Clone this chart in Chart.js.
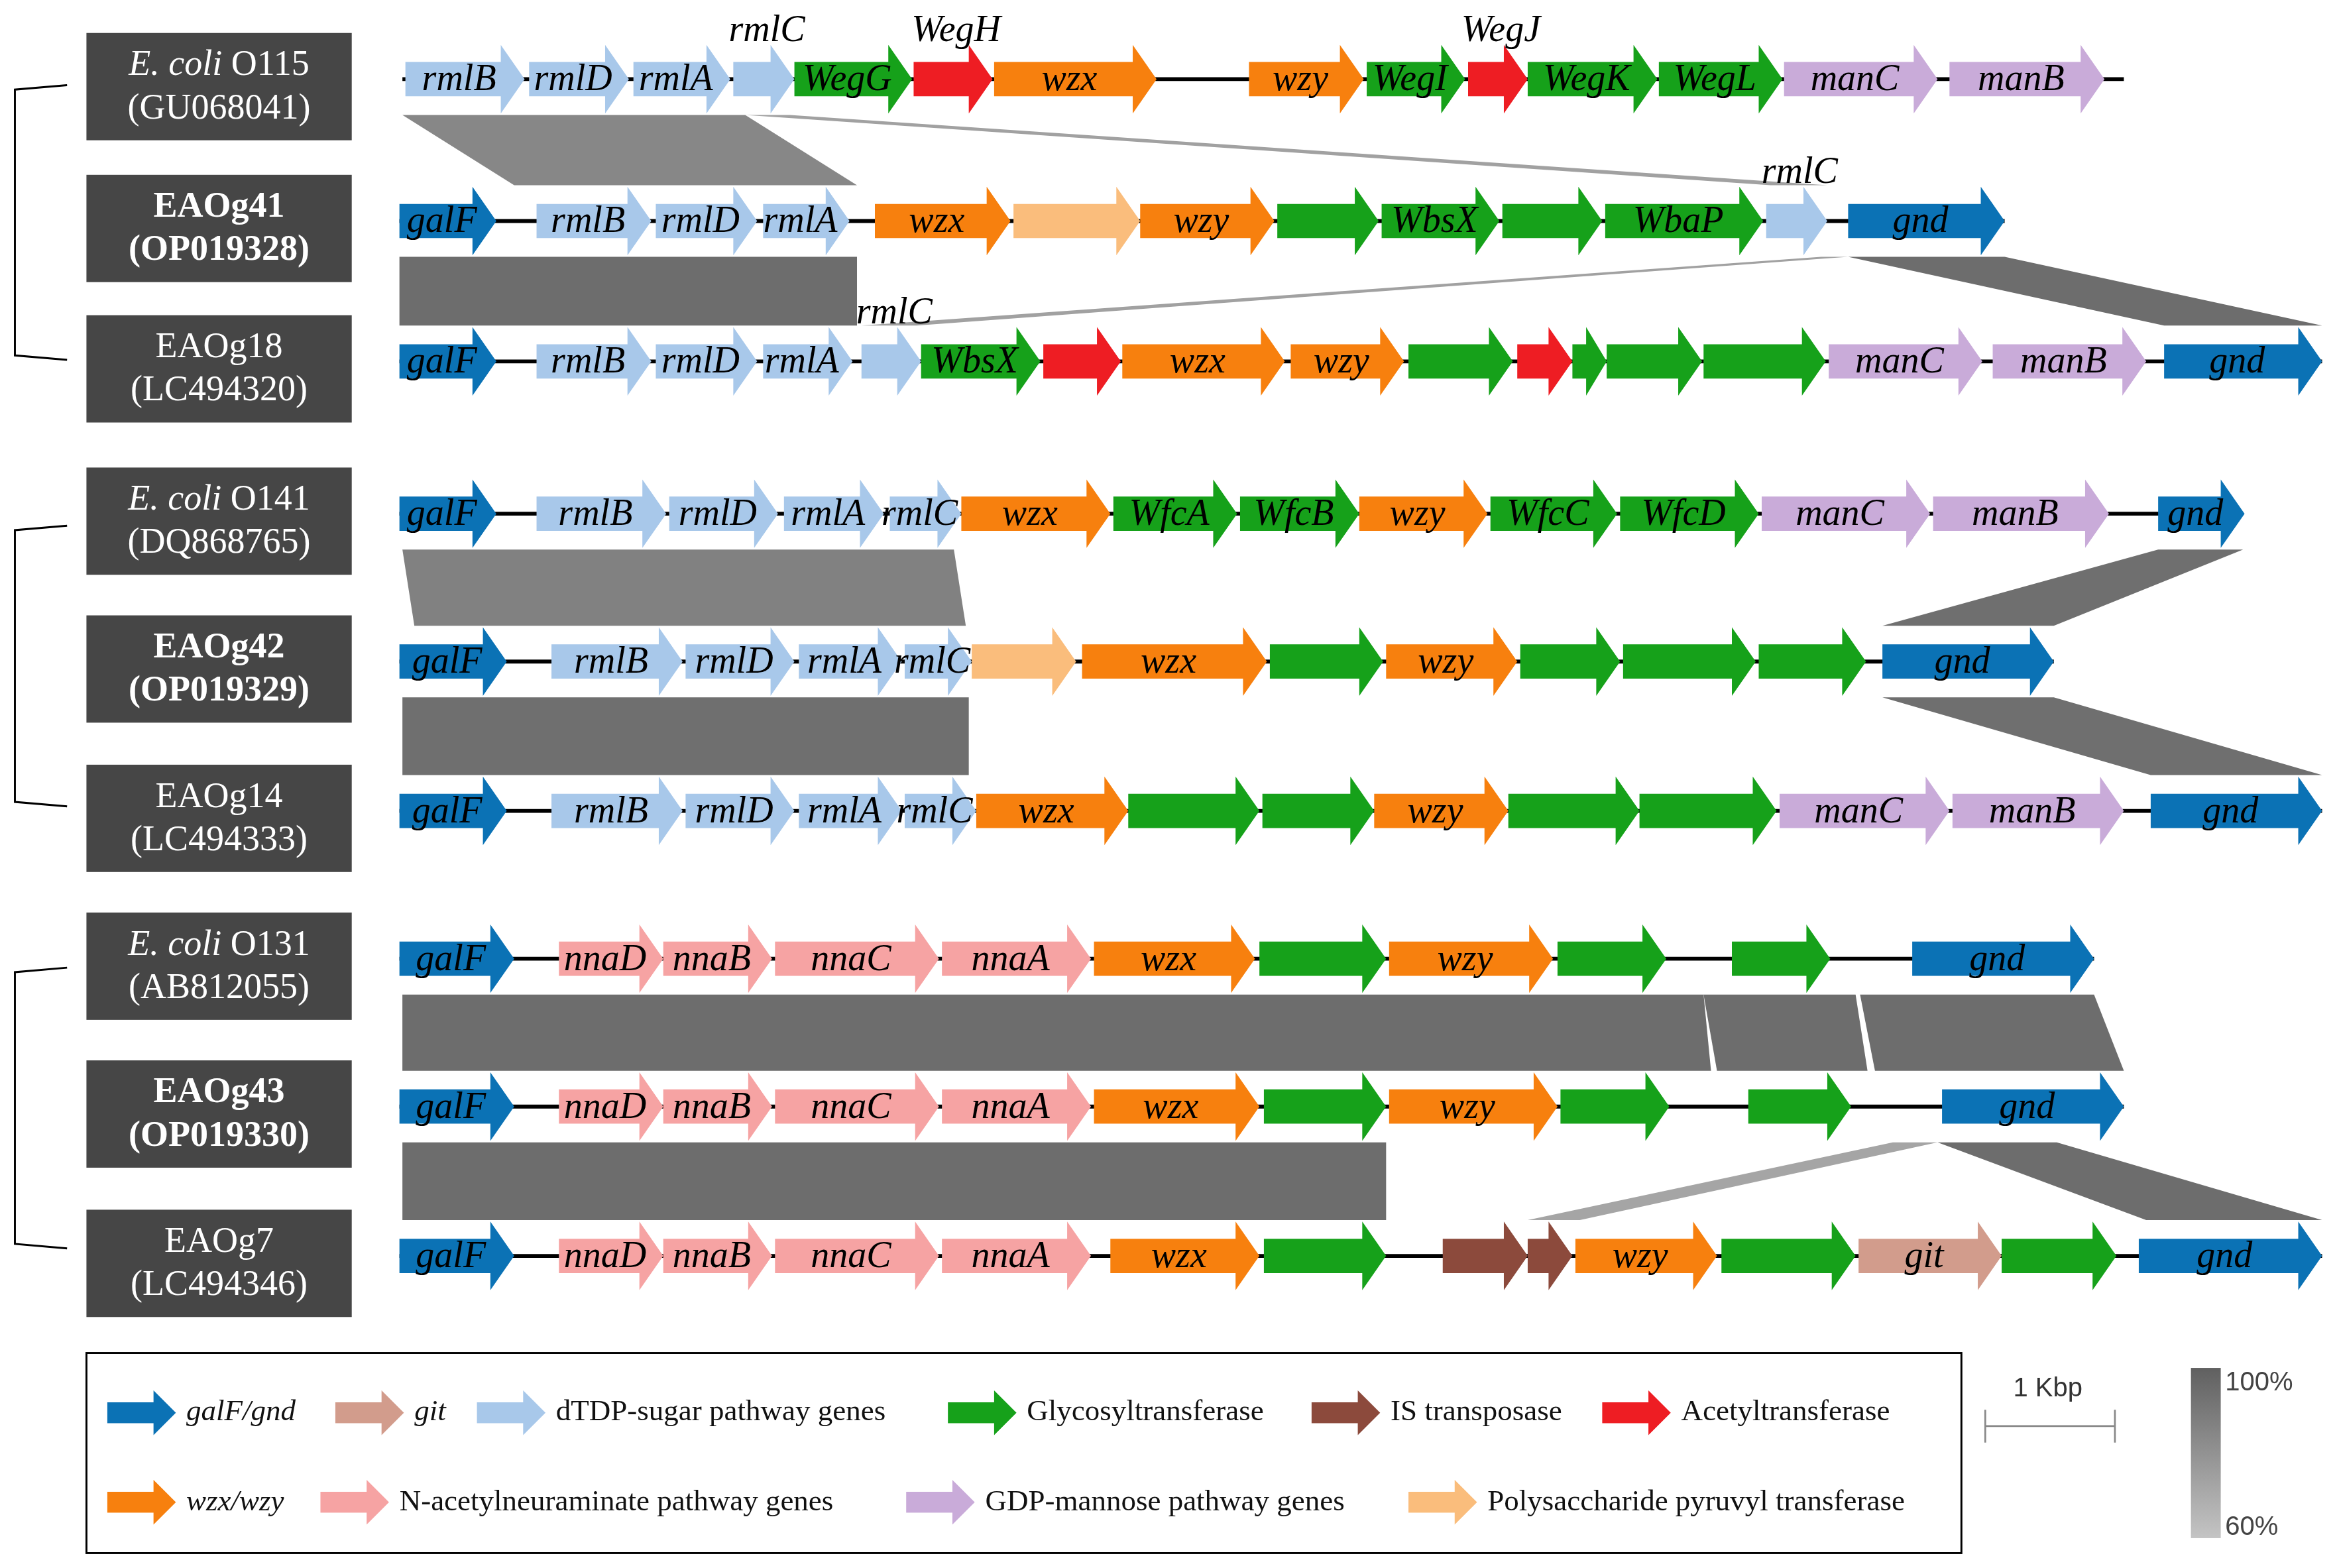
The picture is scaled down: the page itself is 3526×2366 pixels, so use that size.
<!DOCTYPE html>
<html><head><meta charset="utf-8">
<script src="https://cdn.jsdelivr.net/npm/chart.js@4.4.1/dist/chart.umd.min.js"></script>
<style>html,body{margin:0;padding:0;background:#fff}#c{display:block}</style>
</head><body>
<canvas id="c" width="3526" height="2366"></canvas>
<script>
// ===== DATA (positions in figure units along each cluster, row index) =====
const COLORS = {gal:'#0b72b5', git:'#d29c8c', dtdp:'#a8c8ea', gt:'#16a11a', is:'#8c4a3c', ac:'#ee1d23', wz:'#f7800e', nna:'#f6a3a3', gdp:'#c9abd9', pyr:'#fabd7c'};
const rowNames = [['E. coli O115','(GU068041)','it'],['EAOg41','(OP019328)','b'],['EAOg18','(LC494320)','n'],
  ['E. coli O141','(DQ868765)','it'],['EAOg42','(OP019329)','b'],['EAOg14','(LC494333)','n'],
  ['E. coli O131','(AB812055)','it'],['EAOg43','(OP019330)','b'],['EAOg7','(LC494346)','n']];
const rowY = [53,148,242,344,443,543,642,741,841];
const rowLine = [[270,1425],[268,1345],[268,1558],[268,1505],[268,1378],[268,1558],[268,1405],[268,1425],[268,1558]];
// genes: [start, end, type, label, labelAbove]
const row0 = [[272,352,'dtdp','rmlB'],[355,422,'dtdp','rmlD'],[425,490,'dtdp','rmlA'],[492,533,'dtdp','','rmlC'],[533,612,'gt','WegG'],[613,666,'ac','','WegH'],[667,776,'wz','wzx'],[838,915,'wz','wzy'],[917,983,'gt','WegI'],[985,1025,'ac','','WegJ'],[1025,1112,'gt','WegK'],[1113,1196,'gt','WegL'],[1197,1300,'gdp','manC'],[1308,1412,'gdp','manB']];
const row1 = [[268,333,'gal','galF'],[360,437,'dtdp','rmlB'],[440,508,'dtdp','rmlD'],[512,570,'dtdp','rmlA'],[587,678,'wz','wzx'],[680,765,'pyr',''],[765,855,'wz','wzy'],[857,925,'gt',''],[927,1006,'gt','WbsX'],[1008,1075,'gt',''],[1077,1183,'gt','WbaP'],[1185,1226,'dtdp','','rmlC'],[1240,1345,'gal','gnd']];
const row2 = [[268,333,'gal','galF'],[360,437,'dtdp','rmlB'],[440,508,'dtdp','rmlD'],[512,572,'dtdp','rmlA'],[578,618,'dtdp','','rmlC'],[618,698,'gt','WbsX'],[700,752,'ac',''],[753,862,'wz','wzx'],[866,942,'wz','wzy'],[945,1015,'gt',''],[1018,1055,'ac',''],[1055,1078,'gt',''],[1078,1142,'gt',''],[1143,1225,'gt',''],[1227,1330,'gdp','manC'],[1337,1440,'gdp','manB'],[1452,1558,'gal','gnd']];
const row3 = [[268,333,'gal','galF'],[360,447,'dtdp','rmlB'],[449,522,'dtdp','rmlD'],[526,593,'dtdp','rmlA'],[597,645,'dtdp','rmlC'],[645,745,'wz','wzx'],[747,830,'gt','WfcA'],[832,912,'gt','WfcB'],[912,998,'wz','wzy'],[1000,1085,'gt','WfcC'],[1087,1180,'gt','WfcD'],[1182,1295,'gdp','manC'],[1297,1415,'gdp','manB'],[1448,1506,'gal','gnd']];
const row4 = [[268,340,'gal','galF'],[370,458,'dtdp','rmlB'],[460,533,'dtdp','rmlD'],[536,605,'dtdp','rmlA'],[607,652,'dtdp','rmlC'],[652,722,'pyr',''],[726,850,'wz','wzx'],[852,928,'gt',''],[930,1018,'wz','wzy'],[1020,1087,'gt',''],[1089,1178,'gt',''],[1180,1252,'gt',''],[1263,1378,'gal','gnd']];
const row5 = [[268,340,'gal','galF'],[370,458,'dtdp','rmlB'],[460,533,'dtdp','rmlD'],[536,605,'dtdp','rmlA'],[607,655,'dtdp','rmlC'],[655,757,'wz','wzx'],[757,845,'gt',''],[847,922,'gt',''],[922,1012,'wz','wzy'],[1012,1100,'gt',''],[1100,1192,'gt',''],[1194,1308,'gdp','manC'],[1310,1425,'gdp','manB'],[1443,1558,'gal','gnd']];
const row6 = [[268,345,'gal','galF'],[375,445,'nna','nnaD'],[445,518,'nna','nnaB'],[520,630,'nna','nnaC'],[632,732,'nna','nnaA'],[734,842,'wz','wzx'],[845,930,'gt',''],[932,1042,'wz','wzy'],[1045,1118,'gt',''],[1162,1228,'gt',''],[1283,1405,'gal','gnd']];
const row7 = [[268,345,'gal','galF'],[375,445,'nna','nnaD'],[445,518,'nna','nnaB'],[520,630,'nna','nnaC'],[632,732,'nna','nnaA'],[734,845,'wz','wzx'],[848,930,'gt',''],[932,1045,'wz','wzy'],[1047,1120,'gt',''],[1173,1242,'gt',''],[1303,1425,'gal','gnd']];
const row8 = [[268,345,'gal','galF'],[375,445,'nna','nnaD'],[445,518,'nna','nnaB'],[520,630,'nna','nnaC'],[632,732,'nna','nnaA'],[745,845,'wz','wzx'],[848,930,'gt',''],[968,1025,'is',''],[1025,1055,'is',''],[1057,1152,'wz','wzy'],[1155,1245,'gt',''],[1247,1343,'git','git'],[1343,1420,'gt',''],[1435,1558,'gal','gnd']];
const genes = [row0,row1,row2,row3,row4,row5,row6,row7,row8];
// homology bands: [upperRow, topStart, topEnd, bottomStart, bottomEnd, identity%]
const bands = [[0,270,500,345,575,85],[0,500,530,1188,1226,72],
  [1,268,575,268,575,98],[1,1222,1240,578,615,72],[1,1240,1345,1452,1558,98],
  [3,270,640,278,648,88],[3,1448,1505,1263,1378,97],
  [4,270,650,270,650,97],[4,1263,1378,1443,1558,97],
  [6,270,1143,270,1148,98],[6,1143,1245,1152,1253,98],[6,1248,1405,1258,1425,98],
  [7,270,930,270,930,98],[7,1270,1300,1025,1060,70],[7,1300,1380,1440,1558,98]];
const legendItems = [['gal','galF/gnd',1,72,946],['git','git',1,225,946],['dtdp','dTDP-sugar pathway genes',0,320,946],['gt','Glycosyltransferase',0,636,946],['is','IS transposase',0,880,946],['ac','Acetyltransferase',0,1075,946],
  ['wz','wzx/wzy',1,72,1006],['nna','N-acetylneuraminate pathway genes',0,215,1006],['gdp','GDP-mannose pathway genes',0,608,1006],['pyr','Polysaccharide pyruvyl transferase',0,945,1006]];
const brackets = [[57,241],[352,540],[648,836]];

const SERIF = '"Liberation Serif","DejaVu Serif",serif';
const S = 3526/1568;

const draw = {
  id:'draw',
  afterDraw(chart){
    const ctx = chart.ctx, xs = chart.scales.x, ys = chart.scales.y;
    const X = v=>xs.getPixelForValue(v), Y = v=>ys.getPixelForValue(v);
    ctx.save();
    function grey(p){ // 60..100 -> light..dark
      const t=(p-60)/40; const g=Math.round(185-t*80); return `rgb(${g},${g},${g})`; }
    // bands
    bands.forEach(b=>{
      const y1=Y(rowY[b[0]]+24), y2=Y(rowY[b[0]+1]-24);
      ctx.fillStyle=grey(b[5]);
      ctx.beginPath(); ctx.moveTo(X(b[1]),y1); ctx.lineTo(X(b[2]),y1); ctx.lineTo(X(b[4]),y2); ctx.lineTo(X(b[3]),y2); ctx.closePath(); ctx.fill();
    });
    function arrow(x1,x2,yc,col){
      const a=X(x1), b=X(x2), y=Y(yc);
      const bh=11.5*S, hh=23*S; const hl=Math.min(16*S,(b-a)*0.6);
      ctx.fillStyle=col; ctx.beginPath();
      ctx.moveTo(a,y-bh); ctx.lineTo(b-hl,y-bh); ctx.lineTo(b-hl,y-hh); ctx.lineTo(b,y); ctx.lineTo(b-hl,y+hh); ctx.lineTo(b-hl,y+bh); ctx.lineTo(a,y+bh); ctx.closePath(); ctx.fill();
    }
    // rows
    genes.forEach((row,i)=>{
      const y=Y(rowY[i]);
      ctx.strokeStyle='#000'; ctx.lineWidth=2.6*S;
      ctx.beginPath(); ctx.moveTo(X(rowLine[i][0]),y); ctx.lineTo(X(rowLine[i][1]),y); ctx.stroke();
      row.forEach(g=>arrow(g[0],g[1],rowY[i],COLORS[g[2]]));
      ctx.fillStyle='#000'; ctx.textBaseline='middle'; ctx.textAlign='center';
      ctx.font=`italic ${Math.round(25*S)}px ${SERIF}`;
      row.forEach(g=>{
        if(g[3]) ctx.fillText(g[3], X((g[0]+g[1])/2 - 4), y+1*S);
        if(g[4]){ ctx.fillText(g[4], X((g[0]+g[1])/2 + 2), Y(rowY[i]-32)); }
      });
    });
    // left label boxes
    rowNames.forEach((r,i)=>{
      const yc=Y(rowY[i]+5);
      ctx.fillStyle='#464646'; ctx.fillRect(X(58),yc-36*S,X(236)-X(58),72*S);
      ctx.fillStyle='#fff'; ctx.textAlign='center'; ctx.textBaseline='middle';
      const fs=Math.round(24*S);
      if(r[2]==='it'){
        const parts=r[0].split(' '); const p1=parts[0]+' '+parts[1]+' ', p2=parts[2];
        ctx.font=`italic ${fs}px ${SERIF}`; const w1=ctx.measureText(p1).width;
        ctx.font=`${fs}px ${SERIF}`; const w2=ctx.measureText(p2).width;
        const sx=X(147)-(w1+w2)/2; ctx.textAlign='left';
        ctx.font=`italic ${fs}px ${SERIF}`; ctx.fillText(p1,sx,yc-14*S);
        ctx.font=`${fs}px ${SERIF}`; ctx.fillText(p2,sx+w1,yc-14*S);
        ctx.textAlign='center'; ctx.fillText(r[1],X(147),yc+15*S);
      } else {
        ctx.font=`${r[2]==='b'?'bold ':''}${fs}px ${SERIF}`;
        ctx.fillText(r[0],X(147),yc-14*S); ctx.fillText(r[1],X(147),yc+15*S);
      }
    });
    // brackets
    ctx.strokeStyle='#000'; ctx.lineWidth=1.3*S;
    brackets.forEach(b=>{
      ctx.beginPath(); ctx.moveTo(X(45),Y(b[0])); ctx.lineTo(X(10),Y(b[0]+3)); ctx.lineTo(X(10),Y(b[1]-3)); ctx.lineTo(X(45),Y(b[1])); ctx.stroke();
    });
    // legend
    ctx.lineWidth=1.3*S; ctx.strokeStyle='#000';
    ctx.strokeRect(X(58),Y(906),X(1316)-X(58),Y(1040)-Y(906));
    legendItems.forEach(l=>{
      const a=X(l[3]), b=X(l[3]+46), y=Y(l[4]);
      const bh=7*S, hh=15*S, hl=15*S;
      ctx.fillStyle=COLORS[l[0]]; ctx.beginPath();
      ctx.moveTo(a,y-bh); ctx.lineTo(b-hl,y-bh); ctx.lineTo(b-hl,y-hh); ctx.lineTo(b,y); ctx.lineTo(b-hl,y+hh); ctx.lineTo(b-hl,y+bh); ctx.lineTo(a,y+bh); ctx.closePath(); ctx.fill();
      ctx.fillStyle='#111'; ctx.textAlign='left'; ctx.textBaseline='middle';
      ctx.font=`${l[2]?'italic ':''}${Math.round(20*S)}px ${SERIF}`;
      ctx.fillText(l[1], X(l[3]+53), y);
    });
    // scale bar
    ctx.strokeStyle='#888'; ctx.lineWidth=1.2*S;
    ctx.beginPath(); ctx.moveTo(X(1332),Y(955)); ctx.lineTo(X(1419),Y(955));
    ctx.moveTo(X(1332),Y(944)); ctx.lineTo(X(1332),Y(966)); ctx.moveTo(X(1419),Y(944)); ctx.lineTo(X(1419),Y(966)); ctx.stroke();
    ctx.fillStyle='#333'; ctx.textAlign='center'; ctx.textBaseline='middle';
    ctx.font=`${Math.round(18*S)}px "Liberation Sans",Arial,sans-serif`;
    ctx.fillText('1 Kbp', X(1374), Y(930));
    // gradient bar
    const gr=ctx.createLinearGradient(0,Y(916),0,Y(1030));
    gr.addColorStop(0,'#606060'); gr.addColorStop(1,'#c4c4c4');
    ctx.fillStyle=gr; ctx.fillRect(X(1470),Y(916),X(1490)-X(1470),Y(1030)-Y(916));
    ctx.fillStyle='#444'; ctx.textAlign='left';
    ctx.fillText('100%', X(1493), Y(926)); ctx.fillText('60%', X(1493), Y(1023));
    ctx.restore();
  }
};

new Chart(document.getElementById('c'),{
  type:'scatter',
  data:{datasets:[{data:[],pointRadius:0}]},
  options:{responsive:false,animation:false,
    layout:{padding:0},
    plugins:{legend:{display:false},tooltip:{enabled:false}},
    scales:{x:{type:'linear',min:0,max:1568,display:false},
            y:{type:'linear',min:0,max:1050,reverse:true,display:false}}},
  plugins:[draw]
});
</script>
</body></html>
